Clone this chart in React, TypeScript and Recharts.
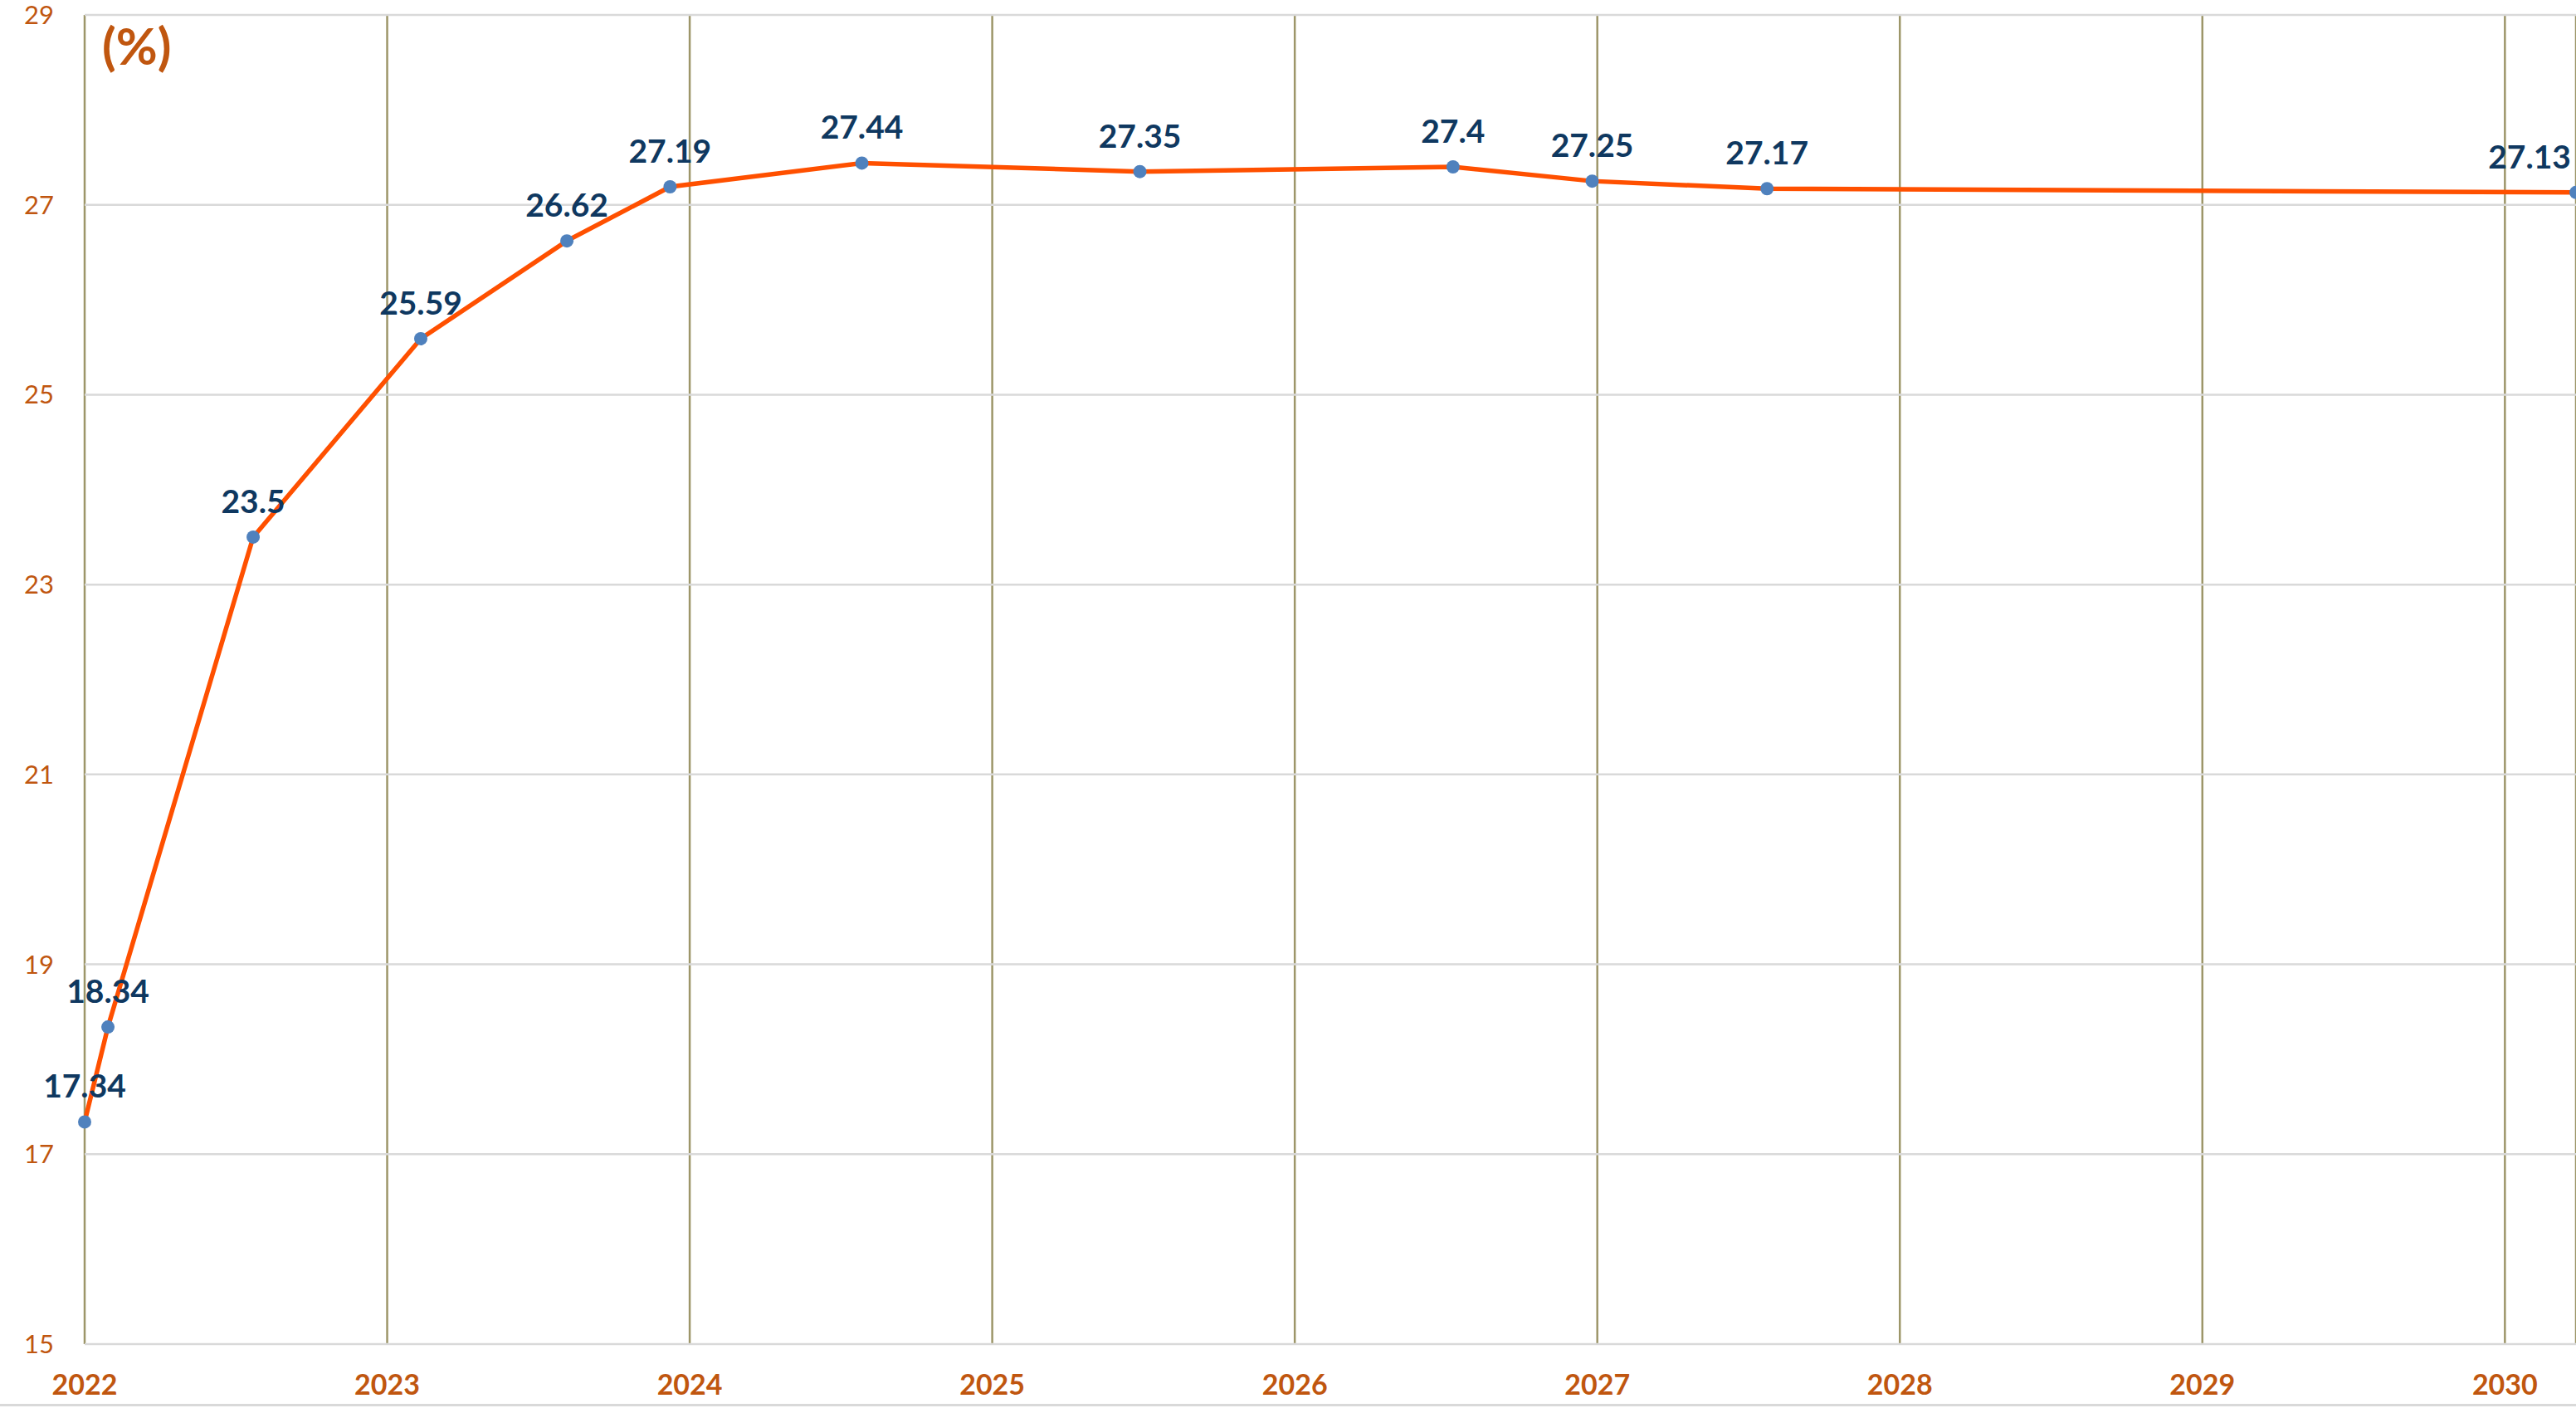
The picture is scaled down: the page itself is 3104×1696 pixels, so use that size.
import React from 'react';
import { LineChart, Line, XAxis, YAxis, CartesianGrid } from 'recharts';

const dates = [2022.0, 2022.077, 2022.557, 2023.111, 2023.594, 2023.935, 2024.569, 2025.488, 2026.523, 2026.983, 2027.561, 2030.235];
const values = [17.34, 18.34, 23.5, 25.59, 26.62, 27.19, 27.44, 27.35, 27.4, 27.25, 27.17, 27.13];
const xTicks = [2022, 2023, 2024, 2025, 2026, 2027, 2028, 2029, 2030];
const yTicks = [15, 17, 19, 21, 23, 25, 27, 29];
const unitLabel = '(%)';

const data = dates.map((d, i) => ({ t: d, v: values[i] }));

const W = 3104;
const H = 1691;
const FONT = 'Lato, "Open Sans", "Noto Sans", sans-serif';
const ORANGE = '#C0560F';

const renderLabel = (props: any) => {
  const { x, y, value, index } = props;
  const last = index === values.length - 1;
  return (
    <text
      key={`lbl-${index}`}
      x={last ? x - 6 : x}
      y={y - 29}
      textAnchor={last ? 'end' : 'middle'}
      fill="#0F3860"
      fontFamily={FONT}
      fontWeight={700}
      fontSize={39}
    >
      {value}
    </text>
  );
};

export default function App() {
  return (
    <div style={{ position: 'absolute', left: 0, top: 0, width: W, height: H + 3, background: '#fff', borderBottom: '3px solid #D9D9D9', boxSizing: 'border-box' }}>
      <LineChart width={W} height={H} data={data} margin={{ top: 18, right: 0, left: 0, bottom: 0 }}>
        <CartesianGrid horizontal={false} vertical={true} stroke="#9D9669" strokeWidth={2.5} />
        <CartesianGrid horizontal={true} vertical={false} stroke="#D9D9D9" strokeWidth={2.5} />
        <XAxis
          dataKey="t"
          type="number"
          domain={[dates[0], dates[dates.length - 1]]}
          ticks={xTicks}
          interval={0}
          axisLine={false}
          tickLine={false}
          tickSize={0}
          tickMargin={37}
          height={72}
          tick={{ fill: ORANGE, fontFamily: FONT, fontWeight: 700, fontSize: 34 }}
        />
        <YAxis
          type="number"
          domain={[15, 29]}
          ticks={yTicks}
          interval={0}
          axisLine={false}
          tickLine={false}
          tickSize={0}
          tickMargin={37}
          width={102}
          tick={{ fill: ORANGE, fontFamily: FONT, fontWeight: 400, fontSize: 31 }}
        />
        <Line
          dataKey="v"
          type="linear"
          stroke="#FF5000"
          strokeWidth={5.5}
          dot={{ r: 8, fill: '#4F81BD', stroke: 'none', strokeWidth: 0 }}
          activeDot={false}
          label={renderLabel}
          isAnimationActive={false}
        />
      </LineChart>
      <svg width={300} height={120} style={{ position: 'absolute', left: 0, top: 0, pointerEvents: 'none' }}>
        <text x={123} y={78} fill={ORANGE} fontFamily={FONT} fontWeight={700} fontSize={61}>
          {unitLabel}
        </text>
      </svg>
    </div>
  );
}
